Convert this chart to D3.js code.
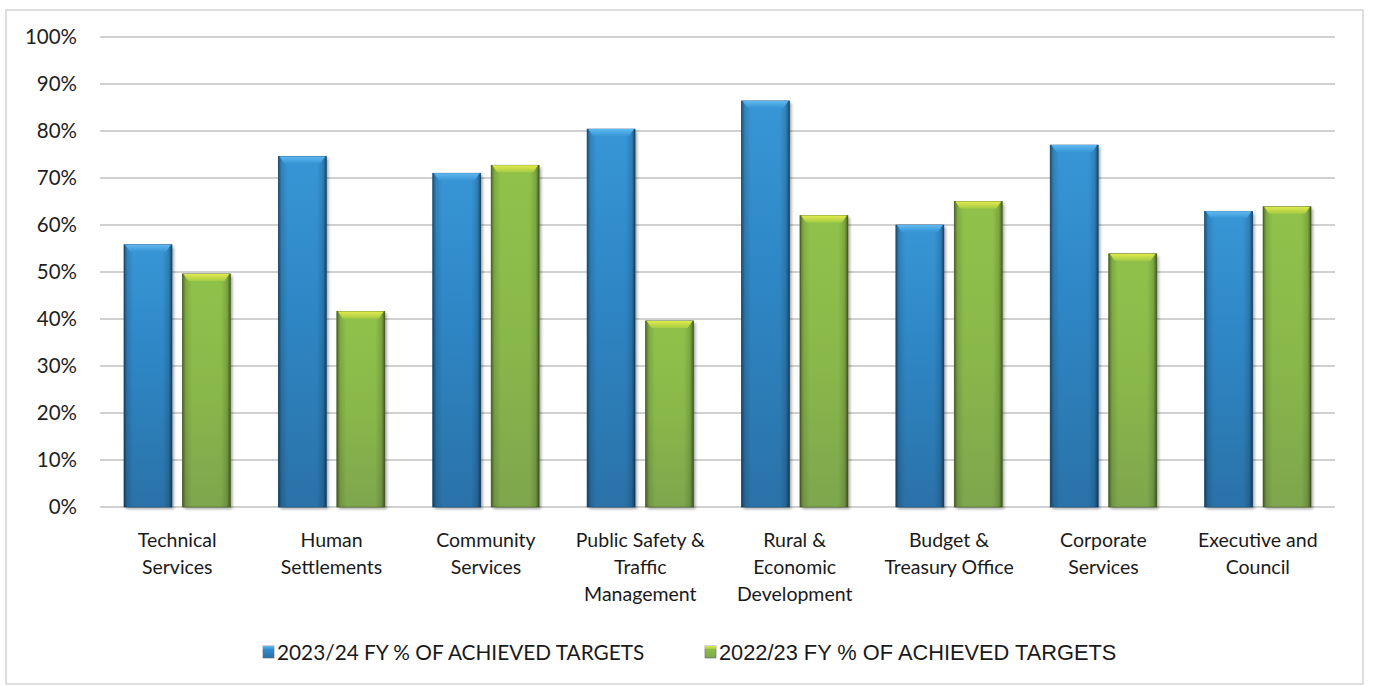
<!DOCTYPE html>
<html>
<head>
<meta charset="utf-8">
<script src="https://cdn.jsdelivr.net/npm/d3@7"></script>
<style>
  html, body { margin: 0; padding: 0; background: #fff; }
  svg { display: block; }
</style>
</head>
<body>
<div id="chart"></div>
<script>
// data
var categories = [
  "Technical\nServices",
  "Human\nSettlements",
  "Community\nServices",
  "Public Safety &\nTraffic\nManagement",
  "Rural &\nEconomic\nDevelopment",
  "Budget &\nTreasury Office",
  "Corporate\nServices",
  "Executive and\nCouncil"
];
var series = ["2023/24 FY % OF ACHIEVED TARGETS", "2022/23 FY % OF ACHIEVED TARGETS"];
var fy2324 = [55.8, 74.6, 71.0, 80.4, 86.4, 60.0, 77.0, 62.9];
var fy2223 = [49.6, 41.6, 72.7, 39.6, 62.0, 65.0, 53.9, 63.9];
var yTicks = [0, 10, 20, 30, 40, 50, 60, 70, 80, 90, 100];

(function () {
  'use strict';
  var W = 1373, H = 686;
  var plot = {left: 100, right: 1335, top: 37, bottom: 507};
  var labelFont = "Lato, 'Open Sans', sans-serif";

  var svg = d3.select("#chart").append("svg")
    .attr("width", W)
    .attr("height", H);

  var defs = svg.append("defs");

  //gradientes das barras
  function vGrad(id, stops) {
    var g = defs.append("linearGradient").attr("id", id)
      .attr("x1", 0).attr("y1", 0).attr("x2", 0).attr("y2", 1);
    stops.forEach(function (s) {
      g.append("stop").attr("offset", s[0]).attr("stop-color", s[1]);
    });
  }
  vGrad("gBlue", [[0, "#3896d6"], [0.45, "#2e86c4"], [1, "#2a72a8"]]);
  vGrad("gGreen", [[0, "#90c24a"], [0.5, "#89b84a"], [1, "#7ea64d"]]);
  vGrad("capBlue", [[0, "#5fb8f0"], [1, "#3896d6"]]);
  vGrad("capGreen", [[0, "#e2ea4c"], [1, "#a6cc45"]]);

  var edge = defs.append("linearGradient").attr("id", "edge")
    .attr("x1", 0).attr("y1", 0).attr("x2", 1).attr("y2", 0);
  [[0, 0.45], [0.07, 0.12], [0.2, 0], [0.8, 0], [0.93, 0.14], [1, 0.5]].forEach(function (s) {
    edge.append("stop").attr("offset", s[0]).attr("stop-color", "#000").attr("stop-opacity", s[1]);
  });

  var blur = defs.append("filter").attr("id", "shadow")
    .attr("x", "-20%").attr("y", "-20%").attr("width", "140%").attr("height", "140%");
  blur.append("feGaussianBlur").attr("stdDeviation", 1.6);

  //moldura
  svg.append("rect")
    .attr("x", 6).attr("y", 10)
    .attr("width", 1357).attr("height", 674)
    .attr("fill", "none")
    .attr("stroke", "#d4d4d4")
    .attr("stroke-width", 1.5);

  //escalas
  var x0 = d3.scaleBand()
    .domain(categories)
    .range([plot.left, plot.right]);
  var x1 = d3.scaleBand()
    .domain(series)
    .range([24, x0.bandwidth() - 24])
    .paddingInner(0.18);
  var y = d3.scaleLinear()
    .domain([0, 100])
    .range([plot.bottom, plot.top]);

  //grade
  svg.append("g").selectAll("line")
    .data(yTicks)
    .enter().append("line")
    .attr("x1", plot.left).attr("x2", plot.right)
    .attr("y1", function (d) { return y(d); })
    .attr("y2", function (d) { return y(d); })
    .attr("stroke", "#c0c0c0")
    .attr("stroke-width", 1.6);

  //eixo y
  var yAxis = svg.append("g")
    .attr("transform", "translate(" + (plot.left - 23) + ",0)")
    .call(d3.axisLeft(y).tickValues(yTicks).tickSize(0).tickPadding(0)
      .tickFormat(function (d) { return d + "%"; }));
  yAxis.select(".domain").remove();
  yAxis.selectAll("text")
    .attr("font-family", labelFont)
    .attr("font-size", 20.5)
    .attr("fill", "#1e1e1e");

  //barras
  var rows = categories.map(function (c, i) {
    return {cat: c, values: [
      {s: series[0], v: fy2324[i], fill: "url(#gBlue)", cap: "url(#capBlue)", line: "#1f5d8c"},
      {s: series[1], v: fy2223[i], fill: "url(#gGreen)", cap: "url(#capGreen)", line: "#5f7d34"}
    ]};
  });

  var groups = svg.append("g").selectAll(".grp")
    .data(rows)
    .enter().append("g")
    .attr("class", "grp")
    .attr("transform", function (d) { return "translate(" + x0(d.cat) + ",0)"; });

  var bars = groups.selectAll(".bar")
    .data(function (d) { return d.values; })
    .enter().append("g")
    .attr("class", "bar");

  var bw = x1.bandwidth();
  bars.append("rect")
    .attr("x", function (d) { return x1(d.s) + 2; })
    .attr("y", function (d) { return y(d.v) + 2; })
    .attr("width", bw)
    .attr("height", function (d) { return plot.bottom - y(d.v); })
    .attr("fill", "#000")
    .attr("opacity", 0.35)
    .attr("filter", "url(#shadow)");
  bars.append("rect")
    .attr("x", function (d) { return x1(d.s); })
    .attr("y", function (d) { return y(d.v); })
    .attr("width", bw)
    .attr("height", function (d) { return plot.bottom - y(d.v); })
    .attr("fill", function (d) { return d.fill; })
    .attr("stroke", function (d) { return d.line; })
    .attr("stroke-width", 0.8);
  bars.append("rect")
    .attr("x", function (d) { return x1(d.s); })
    .attr("y", function (d) { return y(d.v); })
    .attr("width", bw)
    .attr("height", function (d) { return plot.bottom - y(d.v); })
    .attr("fill", "url(#edge)");
  bars.append("path")
    .attr("d", function (d) {
      var xa = x1(d.s), ya = y(d.v);
      return "M" + (xa + 1) + "," + ya + "L" + (xa + bw - 1) + "," + ya +
        "L" + (xa + bw - 6) + "," + (ya + 7) + "L" + (xa + 6) + "," + (ya + 7) + "Z";
    })
    .attr("fill", function (d) { return d.cap; });

  //rotulos das categorias
  var labels = svg.append("g").selectAll("text")
    .data(categories)
    .enter().append("text")
    .attr("x", function (d) { return x0(d) + x0.bandwidth() / 2; })
    .attr("y", 547)
    .attr("text-anchor", "middle")
    .attr("font-family", labelFont)
    .attr("font-size", 19.5)
    .attr("fill", "#1a1a1a");
  labels.selectAll("tspan")
    .data(function (d) { return d.split("\n"); })
    .enter().append("tspan")
    .attr("x", function () { var p = d3.select(this.parentNode).datum(); return x0(p) + x0.bandwidth() / 2; })
    .attr("dy", function (d, i) { return i === 0 ? 0 : 27; })
    .text(function (d) { return d; });

  //legenda
  var legend = [
    {name: series[0], x: 263, fill: "url(#gBlue)", cap: "url(#capBlue)", font: labelFont, size: 20.8},
    {name: series[1], x: 705, fill: "url(#gGreen)", cap: "url(#capGreen)", font: "'Liberation Sans', Arial, sans-serif", size: 21.8}
  ];
  var lg = svg.append("g").selectAll("g")
    .data(legend)
    .enter().append("g")
    .attr("transform", function (d) { return "translate(" + d.x + ",646)"; });
  lg.append("rect")
    .attr("width", 11).attr("height", 12)
    .attr("fill", function (d) { return d.fill; })
    .attr("stroke", "#666").attr("stroke-width", 0.6);
  lg.append("rect")
    .attr("width", 11).attr("height", 3)
    .attr("fill", function (d) { return d.cap; });
  lg.append("text")
    .attr("x", 14)
    .attr("y", 14)
    .attr("font-family", function (d) { return d.font; })
    .attr("font-size", function (d) { return d.size; })
    .attr("fill", "#1a1a1a")
    .text(function (d) { return d.name; });
}());
</script>
</body>
</html>
